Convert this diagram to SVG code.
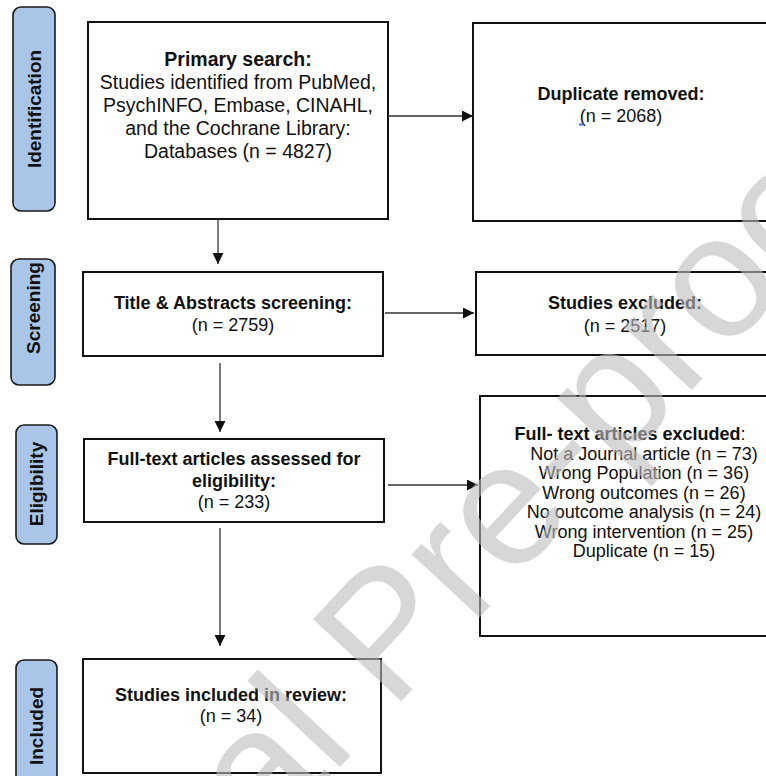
<svg xmlns="http://www.w3.org/2000/svg" width="766" height="776" viewBox="0 0 766 776">
<defs>
<style>
.box{fill:#fff;stroke:#111;stroke-width:2}
.lab{fill:#a9c5e8;stroke:#1a1a1a;stroke-width:1.6}
.lt{font-family:"Liberation Sans",Arial,sans-serif;font-size:19px;font-weight:bold;fill:#111;text-anchor:middle}
.t{font-family:"Liberation Sans",Arial,sans-serif;font-size:18px;fill:#111;text-anchor:middle}
.t19{font-family:"Liberation Sans",Arial,sans-serif;font-size:19.5px;fill:#111;text-anchor:middle}
.b{font-weight:bold}
.con{stroke:#333;stroke-width:1.3;fill:none}
.wm{font-family:"Liberation Sans",Arial,sans-serif;font-size:175px;fill:#bdbdbd;fill-opacity:0.6}
</style>
<marker id="ah" markerUnits="userSpaceOnUse" markerWidth="12" markerHeight="12" refX="11" refY="5.5" orient="auto">
<path d="M0,0 L11,5.5 L0,11 Z" fill="#111"/>
</marker>
</defs>
<rect width="766" height="776" fill="#fff"/>

<g id="label-identification">
<rect class="lab" x="13" y="7" width="42" height="204" rx="8"/>
<text class="lt" transform="translate(41,109) rotate(-90)">Identification</text>
</g>
<g id="label-screening">
<rect class="lab" x="11" y="259" width="44" height="126" rx="8"/>
<text class="lt" transform="translate(40,308) rotate(-90)">Screening</text>
</g>
<g id="label-eligibility">
<rect class="lab" x="16" y="425" width="41" height="119" rx="8"/>
<text class="lt" transform="translate(43,484) rotate(-90)">Eligibility</text>
</g>
<g id="label-included">
<rect class="lab" x="16" y="660" width="41" height="130" rx="8"/>
<text class="lt" transform="translate(43,726) rotate(-90)">Included</text>
</g>

<g id="primary-search">
<rect class="box" x="88" y="22" width="300" height="197"/>
<text class="t19"><tspan class="b" x="238" y="66">Primary search:</tspan><tspan x="238" y="89">Studies identified from PubMed,</tspan><tspan x="238" y="112">PsychINFO, Embase, CINAHL,</tspan><tspan x="238" y="135">and the Cochrane Library:</tspan><tspan x="238" y="158">Databases (n = 4827)</tspan></text>
</g>
<g id="duplicate-removed">
<rect class="box" x="473" y="23" width="300" height="198"/>
<text class="t"><tspan class="b" x="621" y="100">Duplicate removed:</tspan><tspan x="621" y="122">(n = 2068)</tspan></text>
<rect x="579" y="123.5" width="5" height="2" fill="#3b6fd6"/>
</g>
<g id="screening">
<rect class="box" x="83" y="272" width="300" height="84"/>
<text class="t"><tspan class="b" x="233" y="309">Title &amp; Abstracts screening:</tspan><tspan x="233" y="331">(n = 2759)</tspan></text>
</g>
<g id="studies-excluded">
<rect class="box" x="476" y="272" width="300" height="83"/>
<text class="t"><tspan class="b" x="625" y="309">Studies excluded:</tspan><tspan x="625" y="332">(n = 2517)</tspan></text>
</g>
<g id="eligibility">
<rect class="box" x="84" y="439" width="300" height="83"/>
<text class="t"><tspan class="b" x="234" y="465">Full-text articles assessed for</tspan><tspan class="b" x="234" y="487">eligibility:</tspan><tspan x="234" y="508">(n = 233)</tspan></text>
</g>
<g id="fulltext-excluded">
<rect class="box" x="480" y="396" width="300" height="240"/>
<text class="t"><tspan x="630" y="440"><tspan class="b">Full- text articles excluded</tspan>:</tspan><tspan x="644" y="459.5">Not a Journal article (n = 73)</tspan><tspan x="644" y="479">Wrong Population (n = 36)</tspan><tspan x="644" y="498.5">Wrong outcomes (n = 26)</tspan><tspan x="644" y="518">No outcome analysis (n = 24)</tspan><tspan x="644" y="537.5">Wrong intervention (n = 25)</tspan><tspan x="644" y="557">Duplicate (n = 15)</tspan></text>
</g>
<g id="included">
<rect class="box" x="83" y="659" width="298" height="114"/>
<text class="t"><tspan class="b" x="231" y="701">Studies included in review:</tspan><tspan x="231" y="722">(n = 34)</tspan></text>
</g>

<g id="connectors">
<line class="con" x1="388" y1="116" x2="473" y2="116" marker-end="url(#ah)"/>
<line class="con" x1="218" y1="219" x2="218" y2="264" marker-end="url(#ah)"/>
<line class="con" x1="385" y1="313" x2="474" y2="313" marker-end="url(#ah)"/>
<line class="con" x1="220" y1="363" x2="220" y2="432" marker-end="url(#ah)"/>
<line class="con" x1="388" y1="485" x2="478" y2="485" marker-end="url(#ah)"/>
<line class="con" x1="220" y1="528" x2="220" y2="646" marker-end="url(#ah)"/>
</g>

<g id="watermark">
<text class="wm" transform="translate(-33,1167) rotate(-47)">Journal Pre-proof</text>
</g>
</svg>
